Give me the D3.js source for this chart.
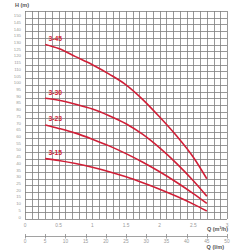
<!DOCTYPE html>
<html>
<head>
<meta charset="utf-8">
<script src="https://cdn.jsdelivr.net/npm/d3@7"></script>
<style>
html,body{margin:0;padding:0;background:#fff;}
svg{display:block;}
</style>
</head>
<body>
<svg id="chart" width="250" height="250"></svg>
<script>
const flowQ = [0.3, 0.5, 0.75, 1.0, 1.25, 1.5, 1.75, 2.0, 2.25, 2.5, 2.7];
const head345 = [130, 127, 121, 115, 108, 100, 89, 76, 62, 46, 30];
const head330 = [90, 88.5, 85.5, 82, 77, 71, 63, 53, 41.5, 28.5, 17];
const head323 = [70, 67.5, 64, 59.5, 54.5, 48.7, 42.3, 35.2, 27.4, 18.9, 11.6];
const head315 = [45, 43.6, 41.3, 38.5, 35.2, 31.4, 27, 22.2, 16.9, 11.1, 6];
const modelNames = ["3-45", "3-30", "3-23", "3-15"];
const yTickLabels = d3.range(0, 151, 5);
const xTickLabelsM3h = [0, 0.5, 1, 1.5, 2, 2.5, 3];
const xTickLabelsLm = [0, 5, 10, 15, 20, 25, 30, 35, 40, 45, 50];

const seriesList = [head345, head330, head323, head315];
const svg = d3.select("#chart");
const x = d3.scaleLinear().domain([0, 3]).range([25, 227]);
const y = d3.scaleLinear().domain([0, 155]).range([219, 11]);
const xl = d3.scaleLinear().domain([0, 50]).range([25, 227]);
const font = "Liberation Sans, Arial, sans-serif";

const grid = svg.append("g");
grid.selectAll("line.v").data(d3.range(0, 31).map(i => i / 10)).join("line")
  .attr("x1", d => Math.round(x(d)) + 0.5).attr("x2", d => Math.round(x(d)) + 0.5)
  .attr("y1", y(155)).attr("y2", y(0))
  .attr("stroke", "#7d7d7d").attr("stroke-width", 0.8);
grid.selectAll("line.h").data(d3.range(0, 156, 5)).join("line")
  .attr("y1", d => Math.round(y(d)) + 0.5).attr("y2", d => Math.round(y(d)) + 0.5)
  .attr("x1", x(0)).attr("x2", x(3))
  .attr("stroke", "#7d7d7d").attr("stroke-width", 0.8);

// y labels
svg.append("g").selectAll("text").data(yTickLabels).join("text")
  .attr("x", 21).attr("y", d => y(d) - 2).attr("dy", "0.35em")
  .attr("text-anchor", "end").attr("font-family", font)
  .attr("font-size", 4.3).attr("fill", "#9a9a9a").text(d => d);

svg.append("text").attr("x", 15).attr("y", 7).attr("font-family", font)
  .attr("font-size", 5.5).attr("font-weight", "bold").attr("fill", "#555").text("H (m)");

// x labels m3/h
svg.append("g").selectAll("text").data(xTickLabelsM3h).join("text")
  .attr("x", d => x(d)).attr("y", 225).attr("dy", "0.35em")
  .attr("text-anchor", "middle").attr("font-family", font)
  .attr("font-size", 4.8).attr("fill", "#9a9a9a").text(d => d);
svg.append("text").attr("x", 228).attr("y", 229.5).attr("dy", "0.35em").attr("text-anchor", "end")
  .attr("font-family", font).attr("font-size", 5.5).attr("font-weight", "bold")
  .attr("fill", "#555").text("Q (m³/h)");

// l/m axis
const lm = svg.append("g");
lm.append("line").attr("x1", xl(0)).attr("x2", xl(50)).attr("y1", 236.5).attr("y2", 236.5)
  .attr("stroke", "#8a8a8a").attr("stroke-width", 0.8);
lm.selectAll("line.t").data(xTickLabelsLm).join("line")
  .attr("x1", d => Math.round(xl(d)) + 0.5).attr("x2", d => Math.round(xl(d)) + 0.5)
  .attr("y1", 234).attr("y2", 238.5).attr("stroke", "#8a8a8a").attr("stroke-width", 0.8);
lm.selectAll("text").data(xTickLabelsLm).join("text")
  .attr("x", d => xl(d)).attr("y", 241.5).attr("dy", "0.35em").attr("text-anchor", "middle")
  .attr("font-family", font).attr("font-size", 4.8).attr("fill", "#9a9a9a").text(d => d);
svg.append("text").attr("x", 224).attr("y", 247.3).attr("dy", "0.35em").attr("text-anchor", "end")
  .attr("font-family", font).attr("font-size", 5.5).attr("font-weight", "bold")
  .attr("fill", "#555").text("Q (l/m)");

// curves
const line = d3.line().x((d, i) => x(flowQ[i])).y(d => y(d)).curve(d3.curveMonotoneX);
svg.append("g").selectAll("path").data(seriesList).join("path")
  .attr("d", d => line(d)).attr("fill", "none").attr("stroke", "#d01f37").attr("stroke-width", 1.6);

svg.append("g").selectAll("text").data(seriesList).join("text")
  .attr("x", 48.5).attr("y", d => y(d[0]) - 6).attr("dy", "0.35em")
  .attr("font-family", font).attr("font-size", 6.8).attr("font-weight", "bold")
  .attr("fill", "#d01f37").text((d, i) => modelNames[i]);
</script>
</body>
</html>
